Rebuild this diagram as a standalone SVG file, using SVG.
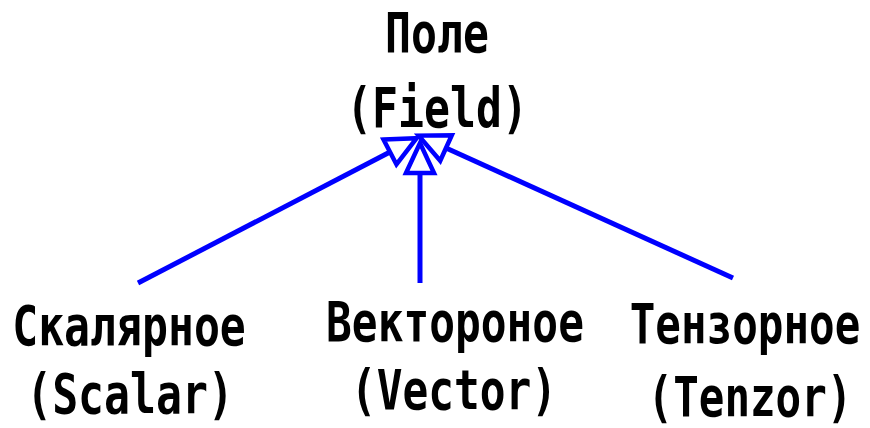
<svg xmlns="http://www.w3.org/2000/svg" width="870" height="428" viewBox="0 0 870 428">
<style>
text{font-family:"DejaVu Sans Mono","Liberation Mono",monospace;font-weight:bold;font-size:56px;fill:#000;text-anchor:middle}
.edge{stroke:#0000ff;stroke-width:5;fill:none;marker-end:url(#gen)}
</style>
<defs>
<marker id="gen" markerUnits="userSpaceOnUse" markerWidth="40" markerHeight="40" viewBox="-4 -20 40 40" refX="0" refY="0" orient="auto">
<path d="M0,-14 L30,0 L0,14 Z" fill="#fff" stroke="#0000ff" stroke-width="4.5" stroke-linejoin="miter"/>
</marker>
</defs>
<rect width="870" height="428" fill="#fff"/>
<g id="field">
<text transform="matrix(0.77 0 0 1 437 52)">Поле</text>
<text transform="matrix(0.77 0 0 1 437 127)">(Field)</text>
</g>
<g id="connectors">
<path class="edge" d="M138,283 L390,152"/>
<path class="edge" d="M420,283 L420,173"/>
<path class="edge" d="M733,278 L446,148"/>
</g>
<g id="scalar">
<text transform="matrix(0.77 0 0 1 129 345)">Скалярное</text>
<text transform="matrix(0.77 0 0 1 130 413)">(Scalar)</text>
</g>
<g id="vector">
<text transform="matrix(0.765 0 0 1 455 341)">Вектороное</text>
<text transform="matrix(0.765 0 0 1 454 409)">(Vector)</text>
</g>
<g id="tenzor">
<text transform="matrix(0.76 0 0 1 745 343)">Тензорное</text>
<text transform="matrix(0.76 0 0 1 750 416)">(Tenzor)</text>
</g>
</svg>
